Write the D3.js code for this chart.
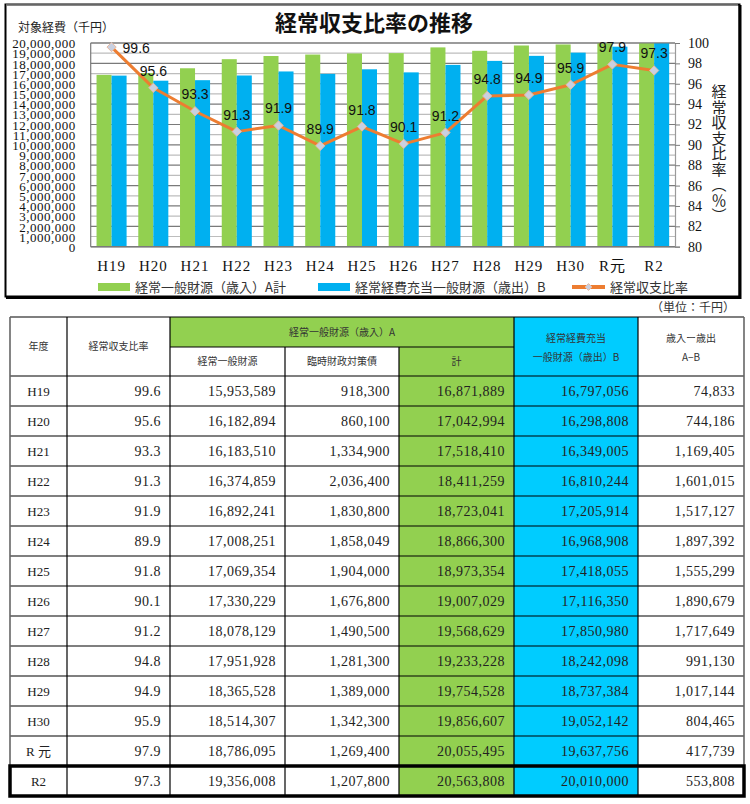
<!DOCTYPE html>
<html><head><meta charset="utf-8">
<script src="https://cdn.jsdelivr.net/npm/d3@7"></script>
<style>body{margin:0;background:#fff}svg{display:block}</style>
</head><body><svg id="c" width="750" height="804"></svg>
<script>
const years = ["H19","H20","H21","H22","H23","H24","H25","H26","H27","H28","H29","H30","R元","R2"];
const tableYears = ["H19","H20","H21","H22","H23","H24","H25","H26","H27","H28","H29","H30","R 元","R2"];
const ratio = [99.6,95.6,93.3,91.3,91.9,89.9,91.8,90.1,91.2,94.8,94.9,95.9,97.9,97.3];
const generalRev = [15953589,16182894,16183510,16374859,16892241,17008251,17069354,17330229,18078129,17951928,18365528,18514307,18786095,19356008];
const tempBond = [918300,860100,1334900,2036400,1830800,1858049,1904000,1676800,1490500,1281300,1389000,1342300,1269400,1207800];
const totalA = [16871889,17042994,17518410,18411259,18723041,18866300,18973354,19007029,19568629,19233228,19754528,19856607,20055495,20563808];
const expB = [16797056,16298808,16349005,16810244,17205914,16968908,17418055,17116350,17850980,18242098,18737384,19052142,19637756,20010000];
const diffAB = [74833,744186,1169405,1601015,1517127,1897392,1555299,1890679,1717649,991130,1017144,804465,417739,553808];
const leftTicks = d3.range(0, 20000001, 1000000);
const rightTicks = d3.range(80, 101, 2);
const legendLabels = ["経常一般財源（歳入）A計","経常経費充当一般財源（歳出）B","経常収支比率"];

const GREEN = "#92D050", BLUE = "#00B0F0", TBLUE = "#00CCFF", ORANGE = "#ED7D31";
const SERIF = "'Liberation Serif','Noto Sans CJK JP',serif";
const JP = "'Noto Sans CJK JP',sans-serif";
const SANS = "'Liberation Sans',Arial,sans-serif";

const svg = d3.select("#c");

// ---------- chart frame ----------
svg.append("rect").attr("x",5.5).attr("y",4.5).attr("width",734).attr("height",292)
  .attr("fill","#fff").attr("stroke","#000").attr("stroke-width",2);
svg.append("line").attr("x1",740).attr("x2",740).attr("y1",5).attr("y2",299).attr("stroke","#000").attr("stroke-width",3);
svg.append("line").attr("x1",6).attr("x2",741).attr("y1",297.5).attr("y2",297.5).attr("stroke","#000").attr("stroke-width",3);
svg.append("line").attr("x1",6).attr("x2",738).attr("y1",5).attr("y2",5).attr("stroke","#888").attr("stroke-width",1.5);

svg.append("text").attr("x",374).attr("y",31).attr("text-anchor","middle")
  .attr("font-family",JP).attr("font-weight","bold").attr("font-size",22).attr("fill","#111")
  .text("経常収支比率の推移");
svg.append("text").attr("x",18).attr("y",32).attr("font-family",JP).attr("font-size",12).attr("fill","#222")
  .text("対象経費（千円）");

const L = 90.7, R = 675, T = 43, B = 246.7;
const x = d3.scaleBand().domain(years).range([L, R]).padding(0);
const yL = d3.scaleLinear().domain([0, 20000000]).range([B, T]);
const yR = d3.scaleLinear().domain([80, 100]).range([B, T]);

// gridlines
svg.append("g").selectAll("line").data(leftTicks).join("line")
  .attr("x1",L).attr("x2",R).attr("y1",d=>yL(d)).attr("y2",d=>yL(d))
  .attr("stroke",(d,i)=> i%2===0 ? "#7a7a7a" : "#bdbdbd").attr("stroke-width",1.2);

// bars
const defs = svg.append("defs");
defs.append("clipPath").attr("id","plotclip").append("rect").attr("x",L).attr("y",T).attr("width",R-L).attr("height",B-T);
const bw = x.bandwidth()*0.36;
const off = (x.bandwidth()-2*bw)/2;
const gBars = svg.append("g").attr("clip-path","url(#plotclip)");
gBars.selectAll("rect.a").data(years).join("rect").attr("class","a")
  .attr("x",d=>x(d)+off).attr("width",bw)
  .attr("y",(d,i)=>yL(totalA[i])).attr("height",(d,i)=>B-yL(totalA[i])).attr("fill",GREEN);
gBars.selectAll("rect.b").data(years).join("rect").attr("class","b")
  .attr("x",d=>x(d)+off+bw).attr("width",bw)
  .attr("y",(d,i)=>yL(expB[i])).attr("height",(d,i)=>B-yL(expB[i])).attr("fill",BLUE);

// axes lines
svg.append("line").attr("x1",L).attr("x2",R).attr("y1",T).attr("y2",T).attr("stroke","#7a7a7a").attr("stroke-width",1.2);
svg.append("line").attr("x1",L).attr("x2",L).attr("y1",T).attr("y2",B).attr("stroke","#7a7a7a").attr("stroke-width",1.2);
svg.append("line").attr("x1",L).attr("x2",R).attr("y1",B).attr("y2",B).attr("stroke","#7a7a7a").attr("stroke-width",1.5);

// left axis
const axL = svg.append("g").attr("transform",`translate(${L-15},0)`)
  .call(d3.axisLeft(yL).tickValues(leftTicks).tickFormat(d3.format(",")).tickSize(0).tickPadding(0));
axL.select(".domain").remove();
axL.selectAll("text").attr("font-family",SERIF).attr("font-size",13).attr("letter-spacing",0.5).attr("fill","#111").attr("dy","0.36em");

// right axis
const axR = svg.append("g").attr("transform",`translate(${R},0)`)
  .call(d3.axisRight(yR).tickValues(rightTicks).tickSize(5).tickPadding(8));
axR.select(".domain").attr("stroke","#9a9a9a").attr("stroke-width",1.2);
axR.selectAll("line").attr("stroke","#7a7a7a");
axR.selectAll("text").attr("font-family",SERIF).attr("font-size",14).attr("fill","#111");

svg.append("text").attr("x",719).attr("y",84)
  .attr("font-family",JP).attr("font-size",15).attr("fill","#222")
  .style("writing-mode","vertical-rl").style("letter-spacing","0.5px")
  .text("経常収支比率（％）");

// x labels
svg.append("g").selectAll("text").data(years).join("text")
  .attr("x",d=>x(d)+x.bandwidth()/2).attr("y",271).attr("text-anchor","middle")
  .attr("font-family",SERIF).attr("font-size",15).attr("letter-spacing",1).attr("fill","#111")
  .text(d=>d);

// line
const cx = d=>x(d)+x.bandwidth()/2;
svg.append("path").datum(years)
  .attr("d",d3.line().x(d=>cx(d)).y((d,i)=>yR(ratio[i])))
  .attr("fill","none").attr("stroke",ORANGE).attr("stroke-width",3).attr("stroke-linejoin","round");
const diamond = d3.symbol().type(d3.symbolDiamond2).size(55);
svg.append("g").selectAll("path").data(years).join("path")
  .attr("transform",(d,i)=>`translate(${cx(d)},${yR(ratio[i])})`)
  .attr("d",diamond).attr("fill","#C9D0E0").attr("stroke","#E8B9A0").attr("stroke-width",1);
svg.append("g").selectAll("text").data(years).join("text")
  .attr("x",(d,i)=> i===0 ? cx(d)+11 : cx(d))
  .attr("y",(d,i)=> i===0 ? yR(ratio[i])+6 : yR(ratio[i])-12)
  .attr("text-anchor",(d,i)=> i===0 ? "start" : "middle")
  .attr("font-family",SANS).attr("font-size",14).attr("fill","#111")
  .text((d,i)=>ratio[i].toFixed(1));

// legend
const lg = svg.append("g").attr("font-family",JP).attr("font-size",13).attr("fill","#333");
lg.append("rect").attr("x",98).attr("y",283).attr("width",32).attr("height",8).attr("fill",GREEN);
lg.append("text").attr("x",135).attr("y",292).text(legendLabels[0]);
lg.append("rect").attr("x",318).attr("y",283).attr("width",32).attr("height",8).attr("fill",BLUE);
lg.append("text").attr("x",355).attr("y",292).text(legendLabels[1]);
lg.append("line").attr("x1",572).attr("x2",605).attr("y1",287).attr("y2",287).attr("stroke",ORANGE).attr("stroke-width",4);
lg.append("path").attr("transform","translate(588.5,287)").attr("d",d3.symbol().type(d3.symbolDiamond2).size(30))
  .attr("fill","#C9D0E0").attr("stroke","#E8B9A0");
lg.append("text").attr("x",610).attr("y",292).text(legendLabels[2]);

// ---------- table ----------
svg.append("text").attr("x",735).attr("y",312).attr("text-anchor","end")
  .attr("font-family",JP).attr("font-size",12).attr("fill","#333").text("（単位：千円）");

const cols = [10, 67, 170, 285, 399, 514, 638, 744];
const hTop = 317, hMid = 347, hBot = 376, rowH = 30;
const nRows = years.length;
const tBot = hBot + rowH*nRows;
const tg = svg.append("g");

// backgrounds
tg.append("rect").attr("x",cols[2]).attr("y",hTop).attr("width",cols[5]-cols[2]).attr("height",hMid-hTop).attr("fill",GREEN);
tg.append("rect").attr("x",cols[4]).attr("y",hMid).attr("width",cols[5]-cols[4]).attr("height",tBot-hMid).attr("fill",GREEN);
tg.append("rect").attr("x",cols[5]).attr("y",hTop).attr("width",cols[6]-cols[5]).attr("height",tBot-hTop).attr("fill",TBLUE);

// horizontal lines
const hLines = [hTop, hBot].concat(d3.range(1, nRows+1).map(i=>hBot+rowH*i));
tg.selectAll("line.h").data(hLines).join("line").attr("class","h")
  .attr("x1",cols[0]).attr("x2",cols[7]).attr("y1",d=>d).attr("y2",d=>d).attr("stroke","#000").attr("stroke-width",1.2);
tg.append("line").attr("x1",cols[2]).attr("x2",cols[5]).attr("y1",hMid).attr("y2",hMid).attr("stroke","#000").attr("stroke-width",1.2);
// vertical lines
tg.selectAll("line.v").data(cols).join("line").attr("class","v")
  .attr("x1",d=>d).attr("x2",d=>d)
  .attr("y1",(d,i)=> (i===3||i===4) ? hMid : hTop).attr("y2",tBot)
  .attr("stroke",(d,i)=> (i===0||i===7) ? "#666" : "#000").attr("stroke-width",(d,i)=> (i===0||i===7) ? 1.6 : 1.2);

// header text
const hdr = [
  {t:"年度", x:(cols[0]+cols[1])/2, y:(hTop+hBot)/2},
  {t:"経常収支比率", x:(cols[1]+cols[2])/2, y:(hTop+hBot)/2},
  {t:"経常一般財源（歳入）A", x:(cols[2]+cols[5])/2, y:(hTop+hMid)/2},
  {t:"経常一般財源", x:(cols[2]+cols[3])/2, y:(hMid+hBot)/2},
  {t:"臨時財政対策債", x:(cols[3]+cols[4])/2, y:(hMid+hBot)/2},
  {t:"計", x:(cols[4]+cols[5])/2, y:(hMid+hBot)/2},
  {t:"経常経費充当", x:(cols[5]+cols[6])/2, y:338},
  {t:"一般財源（歳出）B", x:(cols[5]+cols[6])/2, y:357.5},
  {t:"歳入ー歳出", x:(cols[6]+cols[7])/2, y:338},
  {t:"A−B", x:(cols[6]+cols[7])/2, y:357.5}
];
tg.selectAll("text.hd").data(hdr).join("text").attr("class","hd")
  .attr("x",d=>d.x).attr("y",d=>d.y).attr("dy","0.36em").attr("text-anchor","middle")
  .attr("font-family",JP).attr("font-size",10).attr("fill","#333").text(d=>d.t);

// body
const fmt = d3.format(",");
const rowsData = years.map((y,i)=>[
  tableYears[i], ratio[i].toFixed(1), fmt(generalRev[i]), fmt(tempBond[i]), fmt(totalA[i]), fmt(expB[i]), fmt(diffAB[i])
]);
rowsData.forEach((r,i)=>{
  const cyy = hBot + rowH*i + rowH/2;
  tg.append("text").attr("x",(cols[0]+cols[1])/2).attr("y",cyy).attr("dy","0.36em").attr("text-anchor","middle")
    .attr("font-family",SERIF).attr("font-size",13).attr("fill","#222").text(r[0]);
  for (let c=1;c<7;c++){
    tg.append("text").attr("x",cols[c+1]-9).attr("y",cyy).attr("dy","0.36em").attr("text-anchor","end")
      .attr("font-family",SERIF).attr("font-size",14).attr("letter-spacing",0.5).attr("fill","#222").text(r[c]);
  }
});

// highlight last row
tg.append("rect").attr("x",cols[0]).attr("y",hBot+rowH*(nRows-1)).attr("width",cols[7]-cols[0]).attr("height",rowH)
  .attr("fill","none").attr("stroke","#000").attr("stroke-width",3.5);
</script></body></html>
